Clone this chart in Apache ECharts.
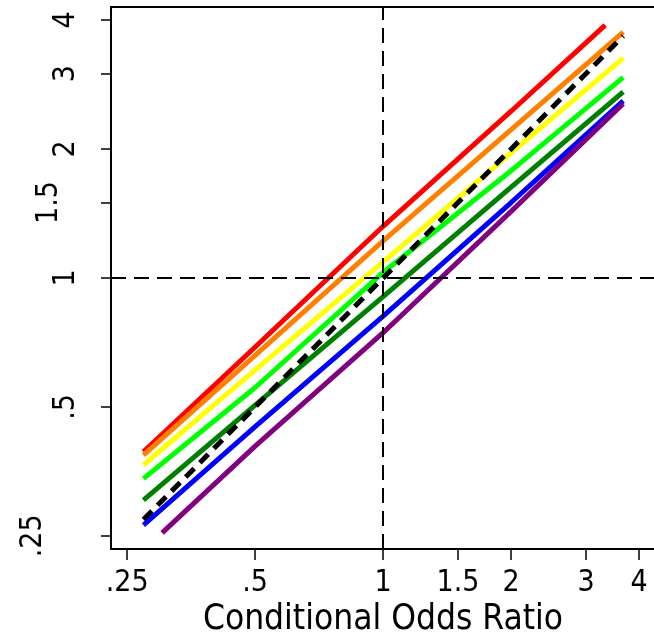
<!DOCTYPE html>
<html>
<head>
<meta charset="utf-8">
<script src="https://cdn.jsdelivr.net/npm/echarts@6/dist/echarts.min.js"></script>
<style>
    html, body { margin: 0; padding: 0; background: #fff; }
    #chart { width: 654px; height: 634px; }
</style>
</head>
<body>
<div id="chart"></div>
<script>
    var xFull = [0.273, 0.5, 1, 2, 3.67];
    var xRed = [0.273, 0.5, 1, 2, 3.33];
    var xPurple = [0.302, 0.5, 1, 2, 3.67];
    var xDiag = [0.273, 3.67];

    // y values of each coloured curve
    var redY = [0.393, 0.69, 1.32, 2.45, 3.89];
    var orangeY = [0.386, 0.66, 1.22, 2.22, 3.75];
    var yellowY = [0.366, 0.61, 1.09, 1.96, 3.26];
    var greenY = [0.340, 0.555, 1.03, 1.78, 2.94];
    var darkGreenY = [0.303, 0.505, 0.905, 1.63, 2.72];
    var blueY = [0.265, 0.45, 0.815, 1.50, 2.59];
    var purpleY = [0.254, 0.405, 0.745, 1.43, 2.55];
    var diagY = [0.273, 3.67];

    var tickVals = [0.25, 0.5, 1, 1.5, 2, 3, 4];
    var tickText = ['.25', '.5', '1', '1.5', '2', '3', '4'];

    var font = '"DejaVu Sans Condensed", "Liberation Sans", sans-serif';

    function labelOf(v) {
        for (var i = 0; i < tickVals.length; i++) {
            if (Math.abs(tickVals[i] - v) < 1e-6) return tickText[i];
        }
        return '';
    }

    function pairs(xs, ys) {
        return xs.map(function (x, i) { return [x, ys[i]]; });
    }

    function curve(xs, ys, color) {
        return {
            type: 'line',
            data: pairs(xs, ys),
            showSymbol: false,
            symbol: 'none',
            silent: true,
            lineStyle: {color: color, width: 5, cap: 'butt'},
            z: 3
        };
    }

    var chart = echarts.init(document.getElementById('chart'));
    chart.setOption({
        animation: false,
        backgroundColor: '#fff',
        grid: {left: 111, right: -1, top: 7, bottom: 85, containLabel: false, outerBoundsMode: 'none'},
        xAxis: [{
            type: 'log',
            logBase: 2,
            min: 0.229,
            max: 4.36,
            name: 'Conditional Odds Ratio',
            nameLocation: 'middle',
            nameGap: 44,
            nameTextStyle: {fontSize: 35, color: '#000', fontFamily: font},
            axisLine: {show: true, onZero: false, lineStyle: {color: '#000', width: 2}},
            axisTick: {show: true, length: 11, customValues: tickVals, lineStyle: {color: '#000', width: 1.5}},
            axisLabel: {
                customValues: tickVals,
                formatter: labelOf,
                fontSize: 30,
                margin: 19,
                color: '#000',
                fontFamily: font
            },
            splitLine: {show: false},
            minorTick: {show: false}
        }, {
            type: 'log',
            logBase: 2,
            min: 0.229,
            max: 4.36,
            position: 'top',
            axisLine: {show: true, onZero: false, lineStyle: {color: '#000', width: 2}},
            axisTick: {show: false},
            axisLabel: {show: false},
            splitLine: {show: false}
        }],
        yAxis: {
            type: 'log',
            logBase: 2,
            min: 0.233,
            max: 4.29,
            axisLine: {show: true, onZero: false, lineStyle: {color: '#000', width: 2}},
            axisTick: {show: true, length: 10, customValues: tickVals, lineStyle: {color: '#000', width: 1.5}},
            axisLabel: {
                customValues: tickVals,
                rotate: 90,
                margin: 30,
                color: '#000',
                fontFamily: font,
                fontSize: 30,
                formatter: function (v) {
                    var t = labelOf(v);
                    if (t === '1.5') return '{b|' + t + '}';
                    if (t === '.25') return '{c|' + t + '}';
                    return '{a|' + t + '}';
                },
                rich: {
                    a: {fontSize: 30, fontFamily: font, color: '#000'},
                    b: {fontSize: 30, fontFamily: font, color: '#000', padding: [0, 0, 17, 0]},
                    c: {fontSize: 30, fontFamily: font, color: '#000', padding: [0, 0, 33, 0]}
                }
            },
            splitLine: {show: false}
        },
        series: [
            {
                type: 'line',
                data: [],
                silent: true,
                z: 1,
                markLine: {
                    silent: true,
                    symbol: 'none',
                    label: {show: false},
                    lineStyle: {color: '#000', width: 2, type: [15, 8]},
                    data: [{xAxis: 1}, {yAxis: 1}]
                }
            },
            curve(xRed, redY, '#ff0000'),
            curve(xFull, orangeY, '#ff7f00'),
            curve(xFull, yellowY, '#ffff00'),
            curve(xFull, greenY, '#00ff00'),
            curve(xFull, darkGreenY, '#008000'),
            curve(xFull, blueY, '#0000ff'),
            curve(xPurple, purpleY, '#800080'),
            {
                type: 'line',
                data: pairs(xDiag, diagY),
                showSymbol: false,
                symbol: 'none',
                silent: true,
                lineStyle: {color: '#000', width: 5, type: [12, 8], cap: 'butt'},
                z: 4
            }
        ]
    });
</script>
</body>
</html>
